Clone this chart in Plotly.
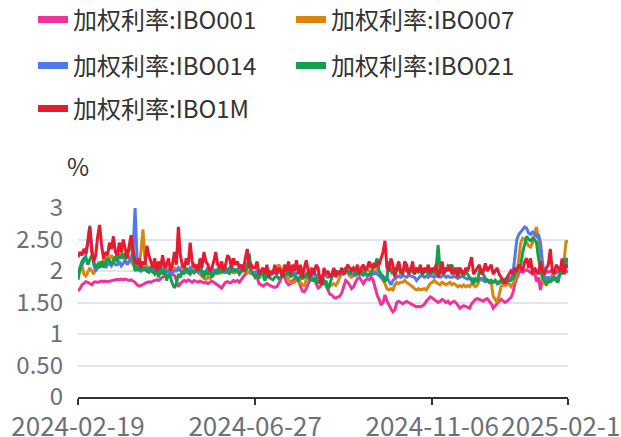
import pandas as pd
import plotly.graph_objects as go

# ---- categories (interbank trading days) ----
HOLIDAYS = ["2024-04-04", "2024-04-05", "2024-05-01", "2024-05-02", "2024-05-03",
            "2024-06-10", "2024-09-16", "2024-09-17", "2024-10-01", "2024-10-02",
            "2024-10-03", "2024-10-04", "2024-10-07", "2025-01-01", "2025-01-28",
            "2025-01-29", "2025-01-30", "2025-01-31", "2025-02-03", "2025-02-04"]
EXTRA_WORKDAYS = ["2024-04-07", "2024-04-28", "2024-05-11", "2024-09-14",
                  "2024-09-29", "2024-10-12", "2025-01-26", "2025-02-08"]
START, END = "2024-02-19", "2025-02-18"

_days = set(d.strftime("%Y-%m-%d") for d in pd.bdate_range(START, END))
_days = (_days - set(HOLIDAYS)) | set(EXTRA_WORKDAYS)
dates = sorted(_days)

TICK_LABELS = ["2024-02-19", "2024-06-27", "2024-11-06", "2025-02-18"]
Y_TICKS = [0, 0.5, 1, 1.5, 2, 2.5, 3]
Y_TICK_TEXT = ["0", "0.50", "1", "1.50", "2", "2.50", "3"]

# ---- series values (%) ----
ibo001 = [
    1.68, 1.72, 1.78, 1.80, 1.83, 1.82, 1.80, 1.78, 1.82, 1.83,
    1.82, 1.83, 1.84, 1.83, 1.84, 1.83, 1.84, 1.85, 1.86, 1.87,
    1.87, 1.86, 1.87, 1.86, 1.87, 1.86, 1.85, 1.86, 1.84, 1.82,
    1.78, 1.76, 1.77, 1.79, 1.80, 1.82, 1.83, 1.82, 1.84, 1.85,
    1.86, 1.85, 1.88, 1.90, 1.92, 1.91, 1.93, 1.95, 1.94, 1.93,
    1.85, 1.75, 1.80, 1.82, 1.85, 1.83, 1.86, 1.84, 1.82, 1.85,
    1.83, 1.82, 1.84, 1.83, 1.81, 1.82, 1.80, 1.82, 1.84, 1.82,
    1.80, 1.77, 1.75, 1.73, 1.78, 1.82, 1.83, 1.81, 1.82, 1.85,
    1.83, 1.85, 1.82, 1.86, 1.90, 1.95, 1.97, 1.98, 1.96, 1.95,
    1.97, 1.90, 1.80, 1.78, 1.76, 1.78, 1.80, 1.78, 1.76, 1.75,
    1.74, 1.75, 1.80, 1.88, 1.93, 1.90, 1.82, 1.78, 1.80, 1.85,
    1.88, 1.90, 1.85, 1.75, 1.68, 1.67, 1.72, 1.80, 1.88, 1.85,
    1.88, 1.80, 1.73, 1.75, 1.80, 1.82, 1.78, 1.70, 1.63, 1.62,
    1.58, 1.57, 1.58, 1.60, 1.65, 1.75, 1.85, 1.82, 1.78, 1.72,
    1.75, 1.82, 1.88, 1.90, 1.85, 1.80, 1.85, 1.88, 1.86, 1.90,
    1.85, 1.72, 1.62, 1.55, 1.46, 1.50, 1.62, 1.52, 1.45, 1.40,
    1.35, 1.38, 1.50, 1.52, 1.50, 1.48, 1.50, 1.52, 1.50, 1.48,
    1.47, 1.45, 1.43, 1.44, 1.43, 1.45, 1.47, 1.52, 1.56, 1.59,
    1.57, 1.55, 1.52, 1.50, 1.52, 1.55, 1.53, 1.50, 1.52, 1.48,
    1.50, 1.52, 1.50, 1.45, 1.41, 1.43, 1.45, 1.44, 1.42, 1.41,
    1.48, 1.52, 1.55, 1.56, 1.55, 1.53, 1.52, 1.55, 1.56, 1.52,
    1.48, 1.41, 1.45, 1.48, 1.52, 1.55, 1.53, 1.50, 1.52, 1.55,
    1.58, 1.65, 1.80, 1.89, 1.97, 2.00, 1.98, 2.00, 2.02, 2.00,
    1.98, 1.95, 2.00, 1.83, 1.90, 1.70, 1.88, 1.95, 2.00, 1.98,
    2.00, 1.98, 2.00, 1.97, 2.00, 1.98, 2.00, 1.97, 2.00, 1.98,
]
ibo007 = [
    1.90, 2.00, 2.10, 1.95, 1.92, 1.98, 2.05, 2.00, 1.95, 2.05,
    2.10, 2.15, 2.08, 2.20, 2.15, 2.22, 2.18, 2.25, 2.20, 2.15,
    2.25, 2.20, 2.30, 2.22, 2.18, 2.25, 2.20, 2.15, 2.10, 2.05,
    2.05, 2.10, 2.30, 2.66, 2.20, 2.05, 2.00, 2.05, 2.10, 2.00,
    2.05, 2.00, 1.95, 2.05, 2.00, 2.05, 2.00, 1.98, 2.02, 2.05,
    2.02, 2.05, 2.00, 2.10, 2.05, 1.98, 1.97, 2.00, 2.08, 2.10,
    2.05, 1.98, 1.95, 1.92, 1.88, 1.87, 1.90, 1.88, 1.92, 1.95,
    1.98, 2.00, 1.97, 2.00, 1.98, 1.97, 2.00, 1.98, 2.00, 1.97,
    1.98, 2.00, 1.97, 1.98, 2.00, 2.02, 1.98, 2.00, 1.97, 1.98,
    1.97, 2.00, 1.98, 1.95, 1.97, 2.00, 1.95, 1.92, 1.95, 2.00,
    1.98, 2.05, 2.10, 2.05, 2.00, 1.95, 1.90, 1.85, 1.82, 1.81,
    1.82, 1.85, 1.88, 1.82, 1.78, 1.77, 1.85, 1.95, 2.05, 2.00,
    1.95, 1.92, 1.90, 1.88, 1.90, 1.85, 1.80, 1.77, 1.76, 1.78,
    1.80, 1.77, 1.82, 1.90, 1.95, 2.02, 2.05, 1.98, 1.92, 1.90,
    1.92, 1.95, 1.98, 2.00, 2.02, 2.00, 2.05, 2.02, 2.00, 1.98,
    2.00, 1.98, 2.02, 1.95, 1.90, 1.85, 1.80, 1.72, 1.70, 1.72,
    1.70, 1.78, 1.82, 1.80, 1.82, 1.82, 1.85, 1.82, 1.80, 1.78,
    1.75, 1.72, 1.70, 1.72, 1.70, 1.71, 1.72, 1.70, 1.75, 1.80,
    1.82, 1.85, 1.82, 1.80, 1.78, 1.82, 1.80, 1.78, 1.80, 1.82,
    1.78, 1.80, 1.78, 1.75, 1.77, 1.75, 1.78, 1.75, 1.77, 1.75,
    1.80, 1.77, 1.75, 1.78, 1.85, 1.88, 1.85, 1.87, 1.86, 1.85,
    1.80, 1.60, 1.55, 1.50, 1.62, 1.75, 1.78, 1.77, 1.78, 1.80,
    1.75, 1.80, 1.85, 1.95, 2.20, 2.45, 2.52, 2.50, 2.45, 2.40,
    2.38, 2.45, 2.60, 2.70, 2.50, 2.10, 1.85, 1.80, 1.78, 1.82,
    1.85, 1.95, 1.90, 1.85, 1.88, 1.95, 2.05, 2.15, 2.48, 2.45,
]
ibo014 = [
    1.95, 2.05, 2.10, 2.15, 2.25, 2.45, 2.72, 2.40, 2.10, 2.00,
    2.05, 2.10, 2.08, 2.15, 2.05, 2.10, 2.12, 2.08, 2.15, 2.10,
    2.10, 2.15, 2.08, 2.12, 2.18, 2.10, 2.15, 2.20, 2.35, 3.00,
    2.20, 2.05, 2.00, 2.05, 2.02, 2.00, 2.05, 2.00, 1.98, 2.02,
    2.00, 2.05, 1.98, 2.00, 2.03, 1.98, 2.00, 1.95, 1.98, 2.00,
    2.00, 2.05, 2.00, 1.98, 2.02, 2.00, 1.98, 2.05, 2.00, 1.97,
    2.00, 1.98, 2.02, 2.00, 1.98, 2.00, 2.05, 2.00, 1.98, 2.02,
    2.00, 2.03, 2.00, 2.05, 2.00, 1.98, 2.02, 2.05, 2.00, 2.03,
    2.00, 2.02, 2.05, 2.00, 2.03, 2.05, 2.10, 2.08, 2.00, 1.98,
    1.98, 2.00, 1.95, 1.98, 2.00, 1.95, 1.98, 2.00, 1.95, 1.97,
    1.98, 1.95, 2.00, 1.97, 1.95, 1.98, 2.00, 1.95, 1.98, 2.00,
    1.97, 1.95, 1.98, 2.00, 1.95, 1.92, 1.95, 1.98, 1.95, 1.93,
    1.95, 1.92, 1.95, 1.90, 1.93, 1.95, 1.92, 1.90, 1.93, 1.95,
    1.95, 1.98, 1.95, 1.97, 2.00, 1.95, 1.98, 2.00, 1.97, 1.95,
    1.95, 1.93, 1.95, 1.97, 1.95, 1.93, 1.95, 1.95, 1.93, 1.95,
    1.95, 1.97, 1.95, 1.93, 1.90, 1.92, 1.88, 1.90, 1.85, 1.78,
    1.85, 1.88, 1.90, 1.92, 1.90, 1.93, 1.92, 1.90, 1.93, 1.92,
    1.92, 1.90, 1.85, 1.88, 1.92, 1.93, 1.90, 1.92, 1.90, 1.93,
    1.92, 1.90, 1.93, 1.92, 1.90, 1.92, 1.93, 1.90, 1.92, 1.90,
    1.90, 1.92, 1.90, 1.88, 1.90, 1.92, 1.90, 1.88, 1.87, 1.88,
    1.87, 1.88, 1.87, 1.85, 1.87, 1.88, 1.85, 1.83, 1.85, 1.82,
    1.83, 1.82, 1.85, 1.82, 1.80, 1.82, 1.85, 1.83, 1.82, 1.90,
    1.88, 1.95, 2.20, 2.50, 2.58, 2.62, 2.66, 2.70, 2.68, 2.60,
    2.58, 2.62, 2.60, 2.55, 2.58, 2.45, 2.15, 1.92, 1.88, 1.90,
    1.88, 1.90, 1.87, 1.88, 1.90, 1.95, 2.00, 2.05, 2.10, 2.15,
]
ibo021 = [
    1.86, 2.05, 2.15, 2.20, 2.22, 2.10, 2.18, 2.25, 2.15, 2.05,
    2.10, 2.05, 2.15, 2.08, 2.12, 2.20, 2.15, 2.10, 2.18, 2.22,
    2.15, 2.25, 2.20, 2.28, 2.20, 2.30, 2.35, 2.41, 2.20, 2.00,
    2.05, 2.00, 2.08, 2.02, 2.05, 2.00, 1.98, 2.05, 2.00, 1.95,
    2.00, 1.90, 2.05, 1.95, 2.00, 1.85, 1.95, 1.90, 1.80, 1.73,
    1.80, 1.95, 1.90, 2.00, 1.95, 2.05, 2.00, 1.95, 2.00, 1.98,
    2.05, 2.00, 2.17, 1.95, 1.90, 2.00, 1.95, 2.00, 1.90, 1.95,
    2.00, 1.95, 2.05, 1.98, 2.00, 2.05, 2.00, 1.95, 2.05, 2.00,
    2.02, 2.00, 1.95, 2.00, 2.05, 2.00, 2.05, 2.28, 2.00, 1.95,
    1.90, 1.95, 1.88, 2.00, 1.92, 1.85, 1.95, 1.90, 1.88, 1.86,
    1.90, 1.92, 1.88, 1.90, 1.95, 1.92, 1.95, 2.00, 1.90, 1.95,
    1.92, 1.88, 1.85, 1.92, 1.88, 1.90, 1.95, 1.92, 1.85, 1.88,
    1.85, 1.88, 1.80, 1.85, 1.90, 1.78, 1.85, 1.70, 1.80, 1.90,
    1.95, 2.00, 1.98, 1.95, 2.02, 1.98, 2.05, 2.00, 1.95, 2.05,
    2.00, 1.95, 1.98, 1.95, 2.00, 1.95, 1.97, 1.93, 1.95, 1.97,
    2.05, 2.10, 2.20, 2.00, 1.95, 1.90, 1.83, 1.90, 2.15, 2.00,
    1.95, 2.05, 2.00, 2.10, 1.95, 2.00, 2.05, 2.00, 1.98, 2.05,
    2.00, 1.95, 2.05, 1.98, 2.00, 1.95, 1.98, 2.00, 1.95, 2.02,
    2.00, 1.95, 2.05, 2.41, 2.00, 1.97, 2.05, 2.00, 2.08, 2.05,
    2.10, 2.00, 1.95, 2.05, 2.00, 1.95, 1.92, 2.00, 1.95, 1.90,
    1.85, 1.80, 1.87, 1.83, 2.00, 2.02, 1.95, 1.88, 1.85, 1.82,
    1.85, 1.82, 1.85, 1.80, 1.83, 1.85, 1.82, 1.88, 1.83, 1.85,
    1.85, 1.88, 1.95, 2.00, 2.05, 2.10, 2.30, 2.45, 2.55, 2.50,
    2.48, 2.52, 2.50, 2.45, 2.20, 2.05, 1.90, 1.85, 1.80, 1.85,
    1.83, 1.85, 1.90, 1.85, 1.82, 2.00, 1.95, 2.10, 2.20, 2.15,
]
ibo1m = [
    2.22, 2.30, 2.25, 2.35, 2.28, 2.45, 2.70, 2.30, 2.15, 2.25,
    2.55, 2.73, 2.40, 2.20, 2.30, 2.25, 2.45, 2.35, 2.55, 2.30,
    2.25, 2.45, 2.30, 2.50, 2.35, 2.20, 2.40, 2.57, 2.35, 2.15,
    2.10, 2.20, 2.05, 2.15, 2.10, 2.40, 2.25, 2.15, 2.05, 2.20,
    2.00, 2.15, 2.05, 2.25, 2.05, 2.10, 2.20, 2.00, 2.10, 2.30,
    2.10, 2.70, 2.25, 2.10, 2.05, 2.20, 2.10, 2.45, 2.15, 2.05,
    2.10, 2.00, 2.20, 2.05, 2.30, 2.15, 2.10, 2.00, 2.05, 2.15,
    2.30, 2.10, 2.05, 2.15, 2.00, 2.10, 2.25, 2.20, 2.05, 2.20,
    2.10, 2.15, 2.05, 2.10, 2.00, 2.20, 2.35, 2.05, 2.10, 2.05,
    2.05, 2.15, 1.95, 2.00, 2.05, 1.95, 2.10, 1.90, 2.00, 1.95,
    2.10, 1.95, 2.05, 2.00, 1.90, 2.10, 2.00, 2.15, 1.95, 2.10,
    2.00, 2.17, 1.95, 2.10, 1.90, 2.05, 2.17, 2.00, 1.90, 2.05,
    1.95, 2.10, 2.05, 1.85, 1.78, 2.05, 1.95, 2.00, 1.90, 1.95,
    2.05, 1.90, 2.00, 1.95, 2.05, 1.95, 2.00, 2.10, 2.05, 2.00,
    2.05, 2.00, 2.10, 1.95, 2.05, 2.10, 2.00, 2.05, 2.15, 2.05,
    2.10, 2.05, 2.15, 2.10, 2.20, 2.30, 2.48, 2.05, 2.00, 2.20,
    2.10, 1.90, 2.05, 2.15, 2.00, 1.95, 2.15, 2.10, 1.95, 2.00,
    2.15, 1.95, 2.05, 2.00, 2.10, 1.95, 2.05, 2.00, 2.10, 1.95,
    2.05, 2.00, 2.10, 1.90, 2.00, 2.15, 1.95, 2.05, 2.00, 2.10,
    1.95, 2.00, 2.05, 1.90, 2.05, 2.00, 1.95, 2.05, 2.00, 2.10,
    2.22, 1.95, 2.00, 2.05, 2.10, 1.95, 2.00, 2.12, 2.00, 2.05,
    2.10, 1.95, 2.00, 2.05, 1.95, 1.90, 1.85, 1.80, 1.90, 1.95,
    2.00, 1.95, 2.05, 2.00, 2.10, 2.05, 2.00, 2.15, 2.20, 2.05,
    2.20, 1.95, 2.05, 2.00, 1.95, 2.15, 2.00, 1.95, 2.05, 2.10,
    2.35, 2.00, 1.95, 2.10, 2.05, 2.00, 2.20, 1.95, 2.10, 2.05,
]

SERIES = [
    ("加权利率:IBO001", ibo001, "#F0339B"),
    ("加权利率:IBO007", ibo007, "#DA850E"),
    ("加权利率:IBO014", ibo014, "#5079EE"),
    ("加权利率:IBO021", ibo021, "#13A04B"),
    ("加权利率:IBO1M", ibo1m, "#E71A30"),
]
# one legend box per entry: (left x px, row center y px)
LEGEND_POS = [(33, 20), (291, 20), (33, 66), (291, 66), (33, 109)]

FONT = "Noto Sans CJK SC, Noto Sans, sans-serif"
W, H = 621, 437

fig = go.Figure()
legends = {}
for k, ((name, vals, color), (lx, ly)) in enumerate(zip(SERIES, LEGEND_POS)):
    lg = "legend" if k == 0 else f"legend{k + 1}"
    # the data line
    fig.add_trace(go.Scatter(
        x=dates[:len(vals)], y=vals, name=name, mode="lines",
        line=dict(color=color, width=3), showlegend=False,
    ))
    # legend-only entry with a thicker swatch
    fig.add_trace(go.Scatter(
        x=[None], y=[None], name=name, mode="lines",
        line=dict(color=color, width=7), legend=lg, showlegend=True,
        hoverinfo="skip",
    ))
    legends[lg] = dict(
        orientation="h", xref="container", yref="container",
        x=lx / W, y=1 - ly / H, xanchor="left", yanchor="middle",
        bgcolor="rgba(0,0,0,0)",
        font=dict(family=FONT, size=24, color="#333333"),
        itemclick=False, itemdoubleclick=False,
    )

fig.update_layout(
    width=W, height=H,
    margin=dict(l=78, r=53, t=208, b=40),
    paper_bgcolor="white", plot_bgcolor="white",
    font=dict(family=FONT, size=24, color="#6E7079"),
    showlegend=True,
    xaxis=dict(
        type="category", range=[0, len(dates) - 1],
        tickmode="array", tickvals=TICK_LABELS, ticktext=TICK_LABELS,
        showgrid=False, showline=True, linecolor="#333333", linewidth=1.5,
        ticks="outside", ticklen=6, tickcolor="#333333", tickwidth=1.5,
        tickfont=dict(family=FONT, size=26, color="#6E7079"),
        ticklabeloverflow="allow",
        zeroline=False, automargin=False,
    ),
    yaxis=dict(
        range=[0, 3], tickmode="array", tickvals=Y_TICKS, ticktext=Y_TICK_TEXT,
        showgrid=True, gridcolor="#E0E6F1", gridwidth=1.5,
        showline=False, zeroline=False, ticks="",
        ticklabelstandoff=14,
        tickfont=dict(family=FONT, size=24, color="#6E7079"),
        automargin=False,
    ),
    annotations=[dict(
        text="%", xref="paper", yref="paper", x=0, y=1, yshift=43,
        xanchor="center", yanchor="middle", showarrow=False,
        font=dict(family=FONT, size=24, color="#333333"),
    )],
    **legends,
)

fig.write_html(
    "out.html",
    config={"displayModeBar": False},
    post_script="document.body.style.margin='0';document.body.style.padding='0';",
)
